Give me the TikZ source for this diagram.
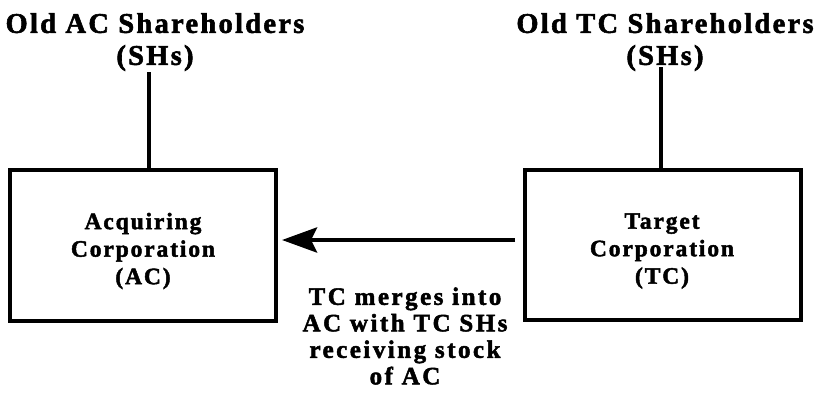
\documentclass[tikz,border=0pt]{standalone}
\usepackage{fontspec}
\setmainfont{Liberation Serif}[BoldFeatures={FakeBold=2}]
\usetikzlibrary{arrows.meta}
\begin{document}
\begin{tikzpicture}[x=1pt,y=-1pt,
  titlelbl/.style={font=\addfontfeatures{LetterSpace=8}\bfseries\fontsize{28.5}{32}\selectfont, align=center, inner sep=0pt},
  boxlbl/.style={font=\addfontfeatures{LetterSpace=8}\bfseries\fontsize{23.5}{27.5}\selectfont, align=center, inner sep=0pt},
  mergelbl/.style={font=\addfontfeatures{LetterSpace=10}\bfseries\fontsize{25}{26.5}\selectfont, align=center, inner sep=0pt},
  corp/.style={draw, line width=4pt},
  conn/.style={line width=4.5pt}]
\useasboundingbox (0,0) rectangle (827,399);
% titles
\node[titlelbl] (acsh) at (155,42) {Old AC Shareholders\\(SHs)};
\node[titlelbl] (tcsh) at (665,42) {Old TC Shareholders\\(SHs)};
% boxes
\draw[corp] (10,170) rectangle (276,321);
\node[boxlbl] (ac) at (143,251) {Acquiring\\Corporation\\(AC)};
\draw[corp] (525,170) rectangle (801,320);
\node[boxlbl] (tc) at (662,251) {Target\\Corporation\\(TC)};
\coordinate (acTop) at (149,170);
\coordinate (tcTop) at (661,170);
\coordinate (acIn) at (149,72);
\coordinate (tcIn) at (661,67);
\draw[conn] (acIn) -- (acTop);
\draw[conn] (tcIn) -- (tcTop);
\coordinate (arrS) at (515,240);
\coordinate (arrE) at (282,240);
\draw[conn, -{Stealth[length=35pt,width=25pt,inset=6pt]}] (arrS) -- (arrE);
\node[mergelbl] (merge) at (405,336) {TC merges into\\AC with TC SHs\\receiving stock\\of AC};
\end{tikzpicture}
\end{document}
